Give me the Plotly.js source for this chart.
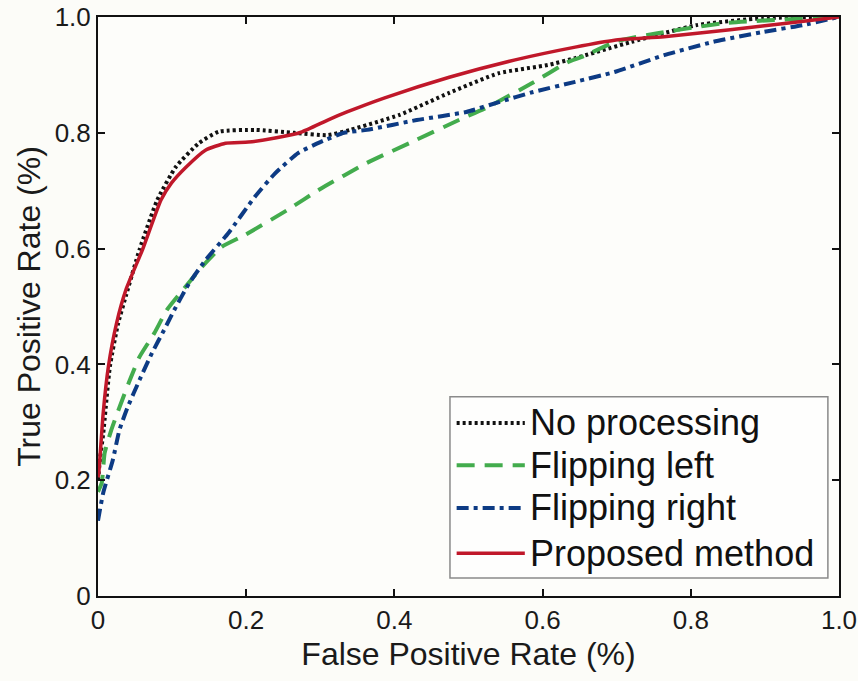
<!DOCTYPE html>
<html>
<head>
<meta charset="utf-8">
<script src="https://cdn.plot.ly/plotly-3.0.1.min.js"></script>
<style>
  html, body { margin: 0; padding: 0; background: #fcfcf8; }
  #chart { width: 858px; height: 681px; }
</style>
</head>
<body>
<div id="chart"></div>
<script>
// ---- data ----
const seriesNames = ["No processing", "Flipping left", "Flipping right", "Proposed method"];

const noProcX = [0, 0.003, 0.007, 0.016, 0.027, 0.038, 0.056, 0.080, 0.105, 0.136, 0.163, 0.212, 0.265, 0.31, 0.34, 0.407, 0.474, 0.541, 0.607, 0.644, 0.72, 0.808, 0.897, 1.0];
const noProcY = [0.20, 0.24, 0.28, 0.396, 0.47, 0.52, 0.598, 0.684, 0.741, 0.782, 0.802, 0.805, 0.80, 0.796, 0.805, 0.831, 0.869, 0.903, 0.917, 0.929, 0.957, 0.986, 0.998, 1.0];

const flipLeftX = [0, 0.005, 0.009, 0.018, 0.029, 0.043, 0.056, 0.076, 0.093, 0.120, 0.140, 0.167, 0.199, 0.256, 0.30, 0.363, 0.43, 0.487, 0.527, 0.586, 0.634, 0.653, 0.70, 0.755, 0.85, 1.0];
const flipLeftY = [0.18, 0.195, 0.247, 0.287, 0.326, 0.373, 0.413, 0.454, 0.494, 0.537, 0.568, 0.603, 0.624, 0.667, 0.703, 0.748, 0.788, 0.822, 0.845, 0.886, 0.922, 0.931, 0.958, 0.972, 0.990, 1.0];

const flipRightX = [0, 0.007, 0.02, 0.029, 0.040, 0.056, 0.073, 0.089, 0.105, 0.123, 0.145, 0.176, 0.212, 0.239, 0.27, 0.30, 0.332, 0.363, 0.43, 0.497, 0.541, 0.586, 0.644, 0.697, 0.764, 0.83, 0.897, 0.951, 1.0];
const flipRightY = [0.13, 0.178, 0.235, 0.287, 0.326, 0.373, 0.42, 0.459, 0.499, 0.54, 0.58, 0.627, 0.69, 0.730, 0.765, 0.784, 0.80, 0.805, 0.822, 0.836, 0.853, 0.870, 0.888, 0.905, 0.934, 0.957, 0.974, 0.986, 1.0];

const proposedX = [0, 0.001, 0.007, 0.014, 0.025, 0.038, 0.06, 0.085, 0.099, 0.119, 0.145, 0.172, 0.203, 0.239, 0.274, 0.31, 0.336, 0.386, 0.474, 0.563, 0.644, 0.697, 0.764, 0.853, 0.941, 1.0];
const proposedY = [0.205, 0.212, 0.316, 0.396, 0.471, 0.530, 0.598, 0.684, 0.713, 0.741, 0.770, 0.782, 0.784, 0.791, 0.801, 0.822, 0.836, 0.860, 0.896, 0.926, 0.948, 0.960, 0.966, 0.978, 0.991, 1.0];

const tickVals = [0, 0.2, 0.4, 0.6, 0.8, 1.0];
const tickText = ["0", "0.2", "0.4", "0.6", "0.8", "1.0"];

// ---- styles ----
const colors = ["#111111", "#43ac4d", "#0d3b84", "#c0182a"];
const dashes = ["3px,3px", "18px,10px", "12px,5px,4px,5px", "solid"];
const widths = [4, 4, 4, 3.5];
const FONT = "Liberation Sans, Arial, Helvetica, sans-serif";

const xs = [noProcX, flipLeftX, flipRightX, proposedX];
const ys = [noProcY, flipLeftY, flipRightY, proposedY];

const traces = seriesNames.map((n, i) => ({
  type: "scatter",
  mode: "lines",
  name: n,
  x: xs[i],
  y: ys[i],
  line: { color: colors[i], width: widths[i], dash: dashes[i], shape: "spline", smoothing: 0.5 },
  showlegend: false
}));

// custom legend (box, sample lines, labels) built from the series arrays
const legRowsY = [0.299, 0.226, 0.152, 0.074];
const shapes = [{
  type: "rect", xref: "paper", yref: "paper",
  x0: 0.475, x1: 0.985, y0: 0.031, y1: 0.344,
  line: { color: "#8a8a8a", width: 1.5 }, fillcolor: "#fefefd", layer: "above"
}];
const annotations = [];
seriesNames.forEach((n, i) => {
  shapes.push({
    type: "line", xref: "paper", yref: "paper",
    x0: 0.484, x1: 0.576, y0: legRowsY[i], y1: legRowsY[i],
    line: { color: colors[i], width: widths[i], dash: dashes[i] }, layer: "above"
  });
  annotations.push({
    xref: "paper", yref: "paper", x: 0.580, y: legRowsY[i],
    xanchor: "left", yanchor: "middle", showarrow: false,
    text: n, font: { family: FONT, size: 36, color: "#111" }
  });
});

const axisCommon = {
  range: [0, 1],
  tickvals: tickVals,
  ticktext: tickText,
  ticks: "inside",
  ticklen: 7,
  tickwidth: 2,
  tickcolor: "#111",
  showline: true,
  linewidth: 2,
  linecolor: "#111",
  mirror: "ticks",
  showgrid: false,
  zeroline: false,
  ticklabeloverflow: "allow",
  tickfont: { family: FONT, size: 26, color: "#1a1a1a" },
  fixedrange: true
};

const layout = {
  width: 858,
  height: 681,
  margin: { l: 98, r: 19, t: 17, b: 85 },
  paper_bgcolor: "#fcfcf8",
  plot_bgcolor: "#fdfdfa",
  font: { family: FONT, color: "#1a1a1a" },
  xaxis: Object.assign({}, axisCommon, {
    title: { text: "False Positive Rate (%)", font: { family: FONT, size: 32, color: "#1a1a1a" }, standoff: 8 }
  }),
  yaxis: Object.assign({}, axisCommon, {
    title: { text: "True Positive Rate (%)", font: { family: FONT, size: 32, color: "#1a1a1a" }, standoff: 4 }
  }),
  shapes: shapes,
  annotations: annotations,
  showlegend: false
};

Plotly.newPlot("chart", traces, layout, { staticPlot: true, displayModeBar: false });
</script>
</body>
</html>
